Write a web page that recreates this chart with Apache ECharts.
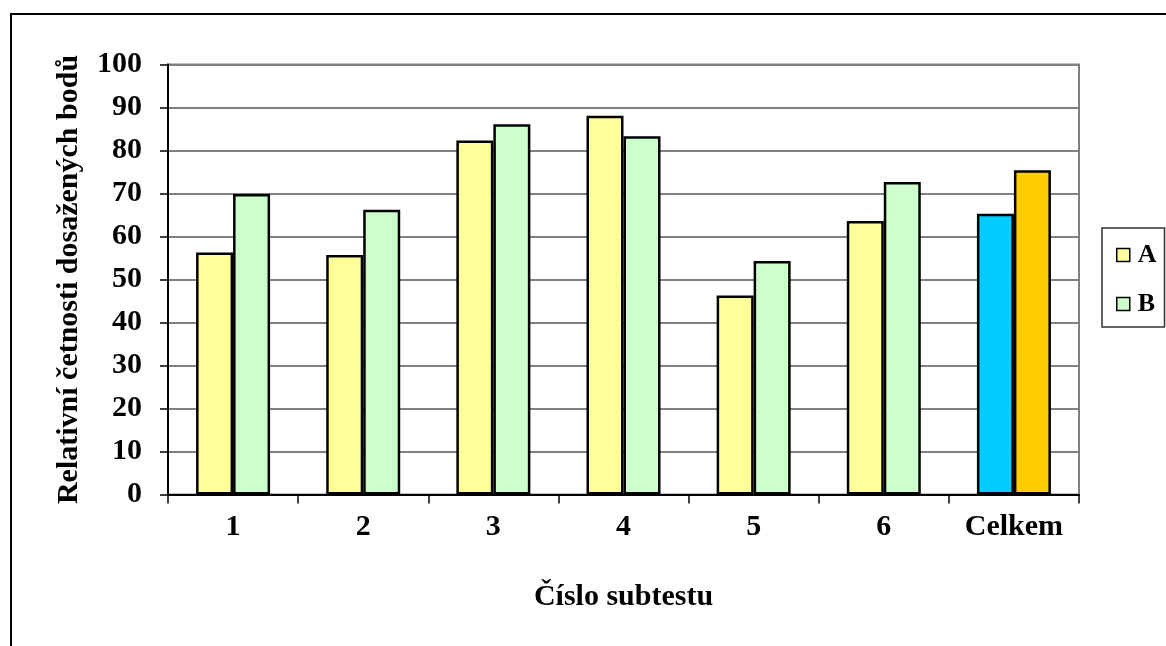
<!DOCTYPE html>
<html>
<head>
<meta charset="utf-8">
<script src="https://cdn.jsdelivr.net/npm/echarts@6/dist/echarts.min.js"></script>
<style>
  html, body { margin: 0; padding: 0; background: #fff; }
  #chart { width: 1166px; height: 646px; }
</style>
</head>
<body>
<div id="chart"></div>
<script>
// Subtest categories and relative frequencies (%) for groups A and B
const categories = ['1', '2', '3', '4', '5', '6', 'Celkem'];
const seriesA = [56.3, 55.7, 82.3, 88.1, 46.3, 63.6, 65.3];
const seriesB = [69.9, 66.2, 86.1, 83.3, 54.3, 72.7, 75.4];
const yTicks = { min: 0, max: 100, interval: 10 };

const FONT = "'Liberation Serif', 'Times New Roman', serif";
const colA = '#FFFF99', colB = '#CCFFCC';
const totalA = '#00CCFF', totalB = '#FFCC00';

// the overall ("Celkem") pair gets its own colours
const dataA = seriesA.map((v, i) => i === categories.length - 1
  ? { value: v, itemStyle: { color: totalA } } : v);
const dataB = seriesB.map((v, i) => i === categories.length - 1
  ? { value: v, itemStyle: { color: totalB } } : v);

const chart = echarts.init(document.getElementById('chart'));
chart.setOption({
  animation: false,
  backgroundColor: '#fff',
  textStyle: { fontFamily: FONT },
  graphic: [{
    type: 'rect', silent: true, z: -10,
    shape: { x: 11, y: 14, width: 1400, height: 900 },
    style: { fill: 'none', stroke: '#000', lineWidth: 2 }
  }],
  grid: {
    left: 168, right: 87, top: 64.5, bottom: 151.5,
    show: true, borderColor: '#808080', borderWidth: 2, backgroundColor: '#fff'
  },
  legend: {
    orient: 'vertical',
    left: 1102, top: 228,
    padding: [14, 8, 10, 14],
    itemGap: 23,
    borderColor: '#333', borderWidth: 1.5,
    backgroundColor: '#fff',
    icon: 'rect', itemWidth: 13, itemHeight: 13,
    itemStyle: { borderColor: '#000', borderWidth: 1.5 },
    textStyle: { fontFamily: FONT, fontWeight: 'bold', fontSize: 26, lineHeight: 26, color: '#000', padding: [0, 0, 0, 3] },
    data: ['A', 'B']
  },
  xAxis: {
    type: 'category',
    data: categories,
    name: 'Číslo subtestu',
    nameLocation: 'middle',
    nameGap: 88,
    nameTextStyle: { fontFamily: FONT, fontWeight: 'bold', fontSize: 30, color: '#000' },
    axisLine: { lineStyle: { color: '#000', width: 2 } },
    axisTick: { show: true, alignWithLabel: false, length: 9, lineStyle: { color: '#000', width: 1.5 } },
    axisLabel: { fontFamily: FONT, fontWeight: 'bold', fontSize: 30, color: '#000', margin: 18 },
    splitLine: { show: false }
  },
  yAxis: {
    type: 'value',
    min: yTicks.min, max: yTicks.max, interval: yTicks.interval,
    name: 'Relativní četnosti dosažených bodů',
    nameLocation: 'middle',
    nameGap: 84,
    nameRotate: 90,
    nameTextStyle: { fontFamily: FONT, fontWeight: 'bold', fontSize: 30, color: '#000' },
    axisLine: { show: true, lineStyle: { color: '#000', width: 2 } },
    axisTick: { show: true, length: 8, lineStyle: { color: '#000', width: 1.5 } },
    axisLabel: { fontFamily: FONT, fontWeight: 'bold', fontSize: 30, color: '#000', margin: 26 },
    splitLine: { show: true, lineStyle: { color: '#808080', width: 2 } }
  },
  series: [
    {
      name: 'A', type: 'bar', data: dataA,
      barWidth: 37, barGap: '0%',
      itemStyle: { color: colA, borderColor: '#000', borderWidth: 2.5 }
    },
    {
      name: 'B', type: 'bar', data: dataB,
      barWidth: 37, barGap: '0%',
      itemStyle: { color: colB, borderColor: '#000', borderWidth: 2.5 }
    }
  ]
});
</script>
</body>
</html>
